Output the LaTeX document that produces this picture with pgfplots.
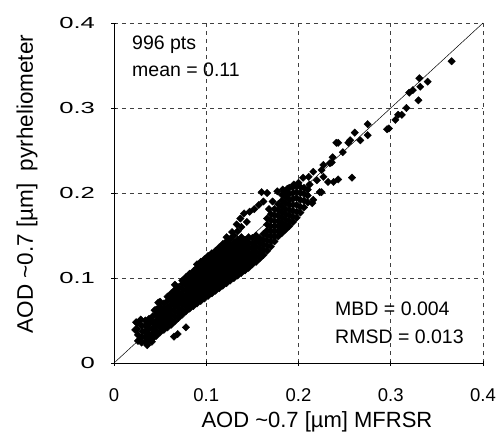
\documentclass[border=0pt]{standalone}
\usepackage{fontspec}
\setmainfont{Liberation Sans}
\newfontfamily\widefont[FakeStretch=1.6]{Liberation Sans}
\usepackage{pgfplots}
\pgfplotsset{compat=1.18}
\begin{document}
\begin{tikzpicture}
\path[use as bounding box] (-114pt,-78pt) rectangle (383pt,363pt);
\begin{axis}[
  at={(0pt,0pt)}, anchor=south west,
  scale only axis, width=369pt, height=340pt,
  xmin=0, xmax=0.4, ymin=0, ymax=0.4,
  axis x line*=bottom, axis y line*=left,
  axis line style={-, line width=0.8pt},
  xtick={0,0.1,0.2,0.3,0.4}, ytick={0,0.1,0.2,0.3,0.4},
  xticklabels={0,0.1,0.2,0.3,0.4}, yticklabels={0,0.1,0.2,0.3,0.4},
  grid=major,
  grid style={black!75, line width=0.5pt, dash pattern=on 4pt off 4pt},
  tick style={black, line width=0.6pt}, major tick length=5pt, tick align=center,
  xticklabel style={font=\fontsize{18.5}{20}\selectfont, yshift=-20pt},
  yticklabel style={font=\widefont\fontsize{16}{18}\selectfont, xshift=-13pt},
  xlabel={AOD \textasciitilde0.7 [µm] MFRSR},
  ylabel={AOD \textasciitilde0.7 [µm]\ \ pyrheliometer},
  xlabel style={font=\fontsize{22}{24}\selectfont, at={(axis description cs:0.55,-0.174)}, anchor=center},
  ylabel style={font=\fontsize{22.5}{24}\selectfont, at={(axis description cs:-0.2358,0.526)}, anchor=center},
]
\addplot[black, line width=0.5pt] coordinates {(0,0) (0.4,0.4)};
\addplot[only marks, mark=square*, mark size=2.6pt, mark options={rotate=45, fill=black, draw=black}] coordinates {
(0.026,0.026)(0.026,0.033)(0.025,0.040)(0.025,0.047)
(0.030,0.024)(0.030,0.030)(0.031,0.037)(0.030,0.044)
(0.034,0.025)(0.034,0.031)(0.034,0.037)(0.034,0.044)(0.034,0.050)
(0.038,0.027)(0.038,0.033)(0.038,0.040)(0.038,0.046)(0.038,0.052)
(0.042,0.029)(0.042,0.035)(0.042,0.041)(0.042,0.048)(0.042,0.055)
(0.046,0.032)(0.046,0.038)(0.046,0.044)(0.046,0.050)(0.046,0.057)(0.046,0.063)
(0.050,0.036)(0.050,0.042)(0.050,0.048)(0.050,0.054)(0.050,0.060)(0.050,0.066)(0.050,0.072)
(0.054,0.039)(0.054,0.045)(0.054,0.051)(0.054,0.057)(0.054,0.063)(0.054,0.070)
(0.058,0.042)(0.058,0.048)(0.058,0.054)(0.058,0.060)(0.058,0.066)(0.058,0.073)(0.058,0.078)
(0.062,0.045)(0.062,0.051)(0.062,0.057)(0.062,0.063)(0.062,0.069)(0.062,0.076)(0.062,0.082)
(0.066,0.049)(0.066,0.055)(0.066,0.061)(0.066,0.067)(0.066,0.073)(0.066,0.079)(0.066,0.086)(0.066,0.092)
(0.070,0.053)(0.070,0.059)(0.070,0.065)(0.070,0.071)(0.070,0.077)(0.070,0.083)(0.070,0.089)
(0.074,0.057)(0.074,0.063)(0.074,0.069)(0.074,0.075)(0.074,0.081)(0.074,0.087)(0.074,0.093)(0.074,0.097)
(0.078,0.061)(0.078,0.067)(0.078,0.073)(0.078,0.079)(0.078,0.085)(0.078,0.091)(0.078,0.097)(0.078,0.101)
(0.082,0.064)(0.082,0.070)(0.082,0.076)(0.082,0.082)(0.082,0.088)(0.082,0.094)(0.082,0.100)(0.082,0.105)
(0.086,0.067)(0.086,0.073)(0.086,0.079)(0.086,0.085)(0.086,0.091)(0.086,0.097)(0.086,0.103)(0.086,0.108)
(0.090,0.070)(0.090,0.076)(0.090,0.082)(0.090,0.088)(0.090,0.094)(0.090,0.100)(0.090,0.106)(0.090,0.112)(0.090,0.116)
(0.094,0.073)(0.094,0.079)(0.094,0.085)(0.094,0.091)(0.094,0.097)(0.094,0.103)(0.094,0.109)(0.094,0.115)(0.094,0.119)
(0.098,0.076)(0.098,0.082)(0.098,0.088)(0.098,0.094)(0.098,0.100)(0.098,0.106)(0.098,0.112)(0.098,0.118)(0.098,0.122)
(0.102,0.079)(0.102,0.085)(0.102,0.091)(0.102,0.097)(0.102,0.103)(0.102,0.109)(0.102,0.115)(0.102,0.121)(0.102,0.126)
(0.106,0.082)(0.106,0.088)(0.106,0.094)(0.106,0.100)(0.106,0.106)(0.106,0.112)(0.106,0.118)(0.106,0.124)(0.106,0.129)
(0.110,0.085)(0.110,0.091)(0.110,0.097)(0.110,0.103)(0.110,0.109)(0.110,0.115)(0.110,0.121)(0.110,0.127)(0.110,0.132)
(0.114,0.088)(0.114,0.094)(0.114,0.100)(0.114,0.106)(0.114,0.112)(0.114,0.118)(0.114,0.124)(0.114,0.130)(0.114,0.136)
(0.118,0.091)(0.118,0.097)(0.118,0.103)(0.118,0.109)(0.118,0.115)(0.118,0.121)(0.118,0.127)(0.118,0.133)(0.118,0.140)
(0.122,0.094)(0.122,0.100)(0.122,0.106)(0.122,0.112)(0.122,0.118)(0.122,0.124)(0.122,0.130)(0.122,0.136)(0.122,0.143)(0.122,0.148)
(0.126,0.097)(0.126,0.103)(0.126,0.109)(0.126,0.115)(0.126,0.121)(0.126,0.127)(0.126,0.133)(0.126,0.139)(0.126,0.146)
(0.130,0.100)(0.130,0.106)(0.130,0.112)(0.130,0.118)(0.130,0.124)(0.130,0.130)(0.130,0.136)(0.130,0.142)(0.130,0.150)
(0.134,0.103)(0.134,0.109)(0.134,0.115)(0.134,0.121)(0.134,0.127)(0.134,0.133)(0.134,0.139)(0.134,0.145)(0.134,0.155)
(0.138,0.106)(0.138,0.112)(0.138,0.118)(0.138,0.124)(0.138,0.130)(0.138,0.136)(0.138,0.142)(0.138,0.148)(0.138,0.160)
(0.142,0.109)(0.142,0.115)(0.142,0.121)(0.142,0.127)(0.142,0.133)(0.142,0.139)(0.142,0.145)
(0.146,0.112)(0.146,0.118)(0.146,0.124)(0.146,0.130)(0.146,0.136)(0.146,0.142)(0.146,0.148)
(0.150,0.116)(0.150,0.122)(0.150,0.128)(0.150,0.134)(0.150,0.140)(0.150,0.147)
(0.154,0.119)(0.154,0.125)(0.154,0.131)(0.154,0.137)(0.154,0.143)(0.154,0.150)
(0.158,0.123)(0.158,0.129)(0.158,0.135)(0.158,0.141)(0.158,0.147)
(0.162,0.127)(0.162,0.133)(0.162,0.139)(0.162,0.145)(0.162,0.152)
(0.166,0.132)(0.166,0.138)(0.166,0.144)(0.166,0.150)(0.166,0.156)(0.166,0.163)(0.166,0.170)
(0.170,0.137)(0.170,0.143)(0.170,0.149)(0.170,0.155)(0.170,0.161)(0.170,0.168)(0.170,0.175)
(0.174,0.143)(0.174,0.149)(0.174,0.155)(0.174,0.161)(0.174,0.167)(0.174,0.174)(0.174,0.181)
(0.178,0.149)(0.178,0.155)(0.178,0.161)(0.178,0.167)(0.178,0.173)(0.178,0.180)(0.178,0.187)
(0.182,0.153)(0.182,0.159)(0.182,0.165)(0.182,0.171)(0.182,0.177)(0.182,0.184)(0.182,0.191)(0.182,0.198)
(0.186,0.157)(0.186,0.163)(0.186,0.169)(0.186,0.175)(0.186,0.181)(0.186,0.188)(0.186,0.195)(0.186,0.202)
(0.190,0.161)(0.190,0.167)(0.190,0.174)(0.190,0.180)(0.190,0.186)(0.190,0.192)(0.190,0.199)(0.190,0.206)
(0.194,0.166)(0.194,0.172)(0.194,0.179)(0.194,0.186)(0.194,0.193)(0.194,0.200)(0.194,0.207)
(0.198,0.171)(0.198,0.178)(0.198,0.186)(0.198,0.194)(0.198,0.201)(0.198,0.208)
(0.202,0.177)(0.202,0.184)(0.202,0.192)(0.202,0.200)(0.202,0.207)
(0.206,0.183)(0.206,0.191)(0.206,0.199)(0.206,0.206)
(0.210,0.189)(0.210,0.197)(0.210,0.204)
(0.128,0.154)(0.133,0.163)(0.137,0.170)(0.141,0.176)(0.147,0.178)(0.152,0.181)(0.157,0.186)(0.162,0.190)
(0.160,0.201)(0.166,0.200)(0.172,0.190)(0.177,0.202)(0.183,0.204)(0.188,0.205)(0.168,0.181)(0.144,0.166)
(0.065,0.031)(0.069,0.034)(0.078,0.042)(0.036,0.021)(0.041,0.025)
(0.023,0.039)(0.024,0.048)(0.029,0.051)(0.048,0.071)(0.044,0.062)
(0.195,0.210)(0.200,0.212)(0.205,0.218)(0.211,0.219)(0.212,0.210)(0.216,0.192)(0.215,0.188)(0.216,0.225)
(0.220,0.215)(0.223,0.201)(0.225,0.201)(0.225,0.227)(0.227,0.233)(0.227,0.219)(0.232,0.213)(0.234,0.235)
(0.236,0.236)(0.237,0.242)(0.238,0.213)(0.243,0.216)(0.241,0.259)(0.243,0.259)(0.248,0.248)(0.254,0.259)
(0.256,0.262)(0.258,0.218)(0.261,0.271)(0.267,0.262)(0.275,0.268)(0.275,0.281)(0.296,0.275)(0.298,0.276)
(0.305,0.286)(0.308,0.292)(0.312,0.292)(0.317,0.300)(0.320,0.318)(0.324,0.321)(0.330,0.309)(0.332,0.325)
(0.331,0.335)(0.340,0.331)(0.366,0.355)
};
\node[anchor=base west, font=\fontsize{19.5}{21}\selectfont, inner sep=0pt] at (axis cs:0.0195,0.3694) {996 pts};
\node[anchor=base west, font=\fontsize{19.5}{21}\selectfont, inner sep=0pt] at (axis cs:0.0195,0.3365) {mean = 0.11};
\node[anchor=base west, font=\fontsize{19.5}{21}\selectfont, inner sep=0pt] at (axis cs:0.2396,0.0553) {MBD = 0.004};
\node[anchor=base west, font=\fontsize{19.5}{21}\selectfont, inner sep=0pt] at (axis cs:0.2396,0.0235) {RMSD = 0.013};
\end{axis}
\end{tikzpicture}
\end{document}
